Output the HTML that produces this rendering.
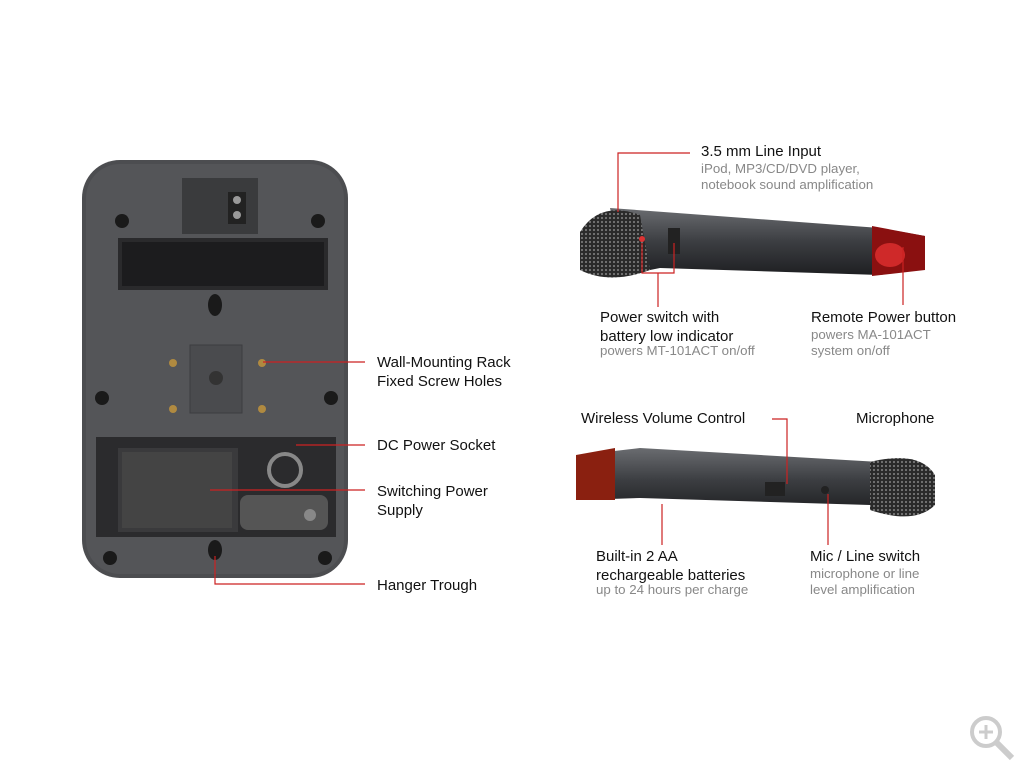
<!DOCTYPE html>
<html><head><meta charset="utf-8"><style>
body{margin:0;width:1024px;height:768px;background:#fff;position:relative;overflow:hidden;font-family:"Liberation Sans",sans-serif}
.t{position:absolute;font-size:15px;color:#111;line-height:19px;white-space:nowrap}
.s{position:absolute;font-size:13.3px;color:#888;line-height:16px;white-space:nowrap}
</style></head><body>
<svg width="1024" height="768" style="position:absolute;left:0;top:0">
<defs>
<linearGradient id="g1" x1="0" y1="0" x2="0" y2="1"><stop offset="0" stop-color="#6a6c70"/><stop offset="0.5" stop-color="#3c3e42"/><stop offset="1" stop-color="#1e1f22"/></linearGradient>
<pattern id="mesh" width="4" height="4" patternUnits="userSpaceOnUse"><rect width="4" height="4" fill="#2a2a2a"/><circle cx="2" cy="2" r="1.1" fill="#777"/></pattern>
</defs>
<rect x="82" y="160" width="266" height="418" rx="38" fill="#4c4d50"/>
<rect x="86" y="164" width="258" height="410" rx="34" fill="#545558"/>
<rect x="182" y="178" width="76" height="56" fill="#3a3b3d"/>
<rect x="228" y="192" width="18" height="32" fill="#222"/>
<circle cx="237" cy="200" r="4" fill="#999"/><circle cx="237" cy="215" r="4" fill="#999"/>
<rect x="118" y="238" width="210" height="52" fill="#2a2a2c"/>
<rect x="122" y="242" width="202" height="44" fill="#1c1c1e"/>
<ellipse cx="215" cy="305" rx="7" ry="11" fill="#1a1a1a"/>
<rect x="190" y="345" width="52" height="68" fill="#4a4b4e" stroke="#3c3d40"/>
<circle cx="216" cy="378" r="7" fill="#333"/>
<circle cx="173" cy="363" r="4" fill="#b08a40"/><circle cx="262" cy="363" r="4" fill="#b08a40"/>
<circle cx="173" cy="409" r="4" fill="#b08a40"/><circle cx="262" cy="409" r="4" fill="#b08a40"/>
<circle cx="122" cy="221" r="7" fill="#1a1a1a"/><circle cx="318" cy="221" r="7" fill="#1a1a1a"/>
<circle cx="102" cy="398" r="7" fill="#1a1a1a"/><circle cx="331" cy="398" r="7" fill="#1a1a1a"/>
<circle cx="110" cy="558" r="7" fill="#1a1a1a"/><circle cx="325" cy="558" r="7" fill="#1a1a1a"/>
<rect x="96" y="437" width="240" height="100" fill="#2b2b2d"/>
<rect x="118" y="448" width="120" height="84" fill="#3a3a3c"/>
<rect x="122" y="452" width="110" height="76" fill="#444"/>
<rect x="240" y="495" width="88" height="35" rx="8" fill="#555"/>
<circle cx="310" cy="515" r="6" fill="#888"/>
<circle cx="285" cy="470" r="16" fill="none" stroke="#888" stroke-width="4"/>
<ellipse cx="215" cy="550" rx="7" ry="10" fill="#1a1a1a"/>
<path d="M610 208 L880 228 L925 236 L925 268 L880 275 L660 268 L625 275 Z" fill="url(#g1)"/>
<path d="M872 226 L925 236 L925 270 L872 276 Z" fill="#8a1010"/>
<ellipse cx="890" cy="255" rx="15" ry="12" fill="#e03030" opacity="0.8"/>
<path d="M580 232 Q600 200 640 215 L650 270 Q610 285 580 270 Z" fill="url(#mesh)"/>
<rect x="668" y="228" width="12" height="26" fill="#222"/>
<circle cx="642" cy="239" r="3" fill="#d33"/>
<path d="M580 455 L640 448 L880 462 L905 470 L905 512 L870 505 L640 498 L580 500 Z" fill="url(#g1)"/>
<path d="M576 455 L615 448 L615 500 L576 500 Z" fill="#8a2010"/>
<path d="M870 462 Q920 450 935 475 L935 505 Q915 525 870 510 Z" fill="url(#mesh)"/>
<rect x="765" y="482" width="20" height="14" fill="#222"/>
<circle cx="825" cy="490" r="4" fill="#222"/>
<g stroke="#c22" stroke-width="1.2" fill="none">
<path d="M263 362 H365"/>
<path d="M296 445 H365"/>
<path d="M210 490 H365"/>
<path d="M215 556 V584 H365"/>
<path d="M618 212 V153 H690"/>
<path d="M642 243 V273 H674 V243"/>
<path d="M658 273 V307"/>
<path d="M903 247 V305"/>
<path d="M772 419 H787 V484"/>
<path d="M662 504 V545"/>
<path d="M828 494 V545"/>
</g>
<circle cx="986" cy="732" r="14" fill="none" stroke="#ccc" stroke-width="4"/>
<path d="M996 742 L1012 758" stroke="#ccc" stroke-width="6"/>
<path d="M979 732 H993 M986 725 V739" stroke="#ccc" stroke-width="3"/>
</svg>
<div class="t" style="left:377px;top:353px">Wall-Mounting Rack<br>Fixed Screw Holes</div>
<div class="t" style="left:377px;top:436px">DC Power Socket</div>
<div class="t" style="left:377px;top:482px">Switching Power<br>Supply</div>
<div class="t" style="left:377px;top:576px">Hanger Trough</div>
<div class="t" style="left:701px;top:142px">3.5 mm Line Input</div>
<div class="s" style="left:701px;top:161px">iPod, MP3/CD/DVD player,<br>notebook sound amplification</div>
<div class="t" style="left:600px;top:308px">Power switch with<br>battery low indicator</div>
<div class="s" style="left:600px;top:343px">powers MT-101ACT on/off</div>
<div class="t" style="left:811px;top:308px">Remote Power button</div>
<div class="s" style="left:811px;top:327px">powers MA-101ACT<br>system on/off</div>
<div class="t" style="left:581px;top:409px">Wireless Volume Control</div>
<div class="t" style="left:856px;top:409px">Microphone</div>
<div class="t" style="left:596px;top:547px">Built-in 2 AA<br>rechargeable batteries</div>
<div class="s" style="left:596px;top:582px">up to 24 hours per charge</div>
<div class="t" style="left:810px;top:547px">Mic / Line switch</div>
<div class="s" style="left:810px;top:566px">microphone or line<br>level amplification</div>
</body></html>
